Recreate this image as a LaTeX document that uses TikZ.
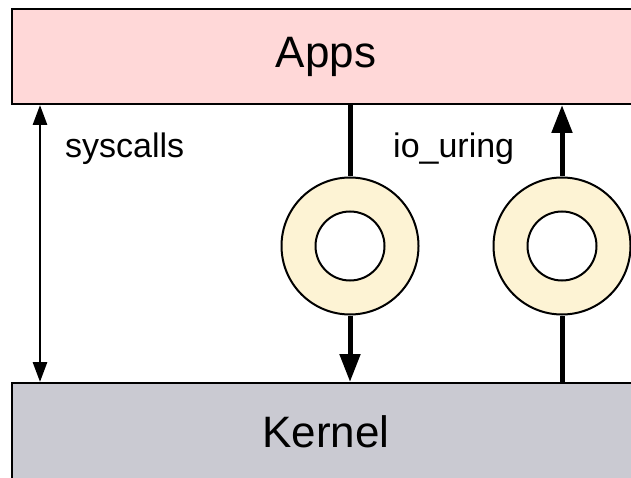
\documentclass[tikz,border=0pt]{standalone}
\usepackage{fontspec}
\setmainfont{Liberation Sans}
\usetikzlibrary{arrows.meta}
\definecolor{appsfill}{HTML}{FFD8D8}
\definecolor{kernfill}{HTML}{CACAD2}
\definecolor{ringfill}{HTML}{FDF3D4}
\tikzset{
  layer/.style={draw=black, line width=2pt, rectangle, minimum width=628pt, inner sep=0pt, font=\fontsize{44}{50}\selectfont},
  ringnode/.style={circle, draw=black, fill=ringfill, line width=2pt, minimum size=137pt, inner sep=0pt},
  holenode/.style={circle, draw=black, fill=white, line width=2pt, minimum size=69pt, inner sep=0pt},
  label/.style={font=\fontsize{34}{40}\selectfont, inner sep=0pt, anchor=base west},
  flow/.style={line width=5pt, -{Triangle[length=28pt,width=20pt]}},
  flowplain/.style={line width=5pt},
  sys/.style={line width=2.8pt, {Triangle[length=20pt,width=14pt]}-{Triangle[length=20pt,width=14pt]}}
}
\begin{document}
\begin{tikzpicture}[x=1pt,y=-1pt]
\fill[white] (0,0) rectangle (631,478);
\useasboundingbox (0,0) rectangle (631,478);
\clip (0,0) rectangle (631,478);
\node[layer, fill=appsfill, minimum height=95pt] (apps) at (326,56.5) {\raisebox{-3pt}{Apps}};
\node[layer, fill=kernfill, minimum height=98pt] (kernel) at (326,432) {Kernel};
\node[ringnode] (r1) at (350,246) {};
\node[holenode] (h1) at (r1.center) {};
\node[ringnode] (r2) at (562,246) {};
\node[holenode] (h2) at (r2.center) {};
\coordinate (sc) at (40,0);
\draw[sys] (apps.south -| sc) -- (kernel.north -| sc);
\node[label] (lsys) at (65,158) {syscalls};
\node[label] (lio) at (393,158) {io\_uring};
\draw[flowplain] (apps.south -| r1) -- (r1.north);
\draw[flow] (r1.south) -- (kernel.north -| r1);
\draw[flowplain] (kernel.north -| r2) -- (r2.south);
\draw[flow] (r2.north) -- (apps.south -| r2);
\end{tikzpicture}
\end{document}
